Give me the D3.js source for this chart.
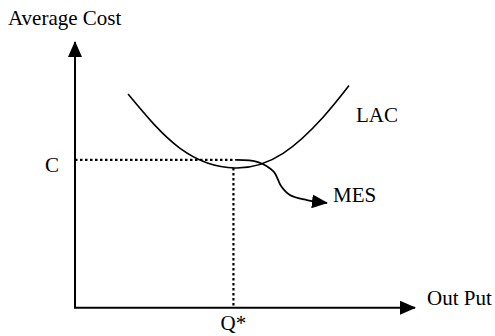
<!DOCTYPE html>
<html>
<head>
<meta charset="utf-8">
<script src="https://cdn.jsdelivr.net/npm/d3@7"></script>
<style>
  body { margin: 0; background: #fff; }
  svg text { font-family: "Liberation Serif", "Times New Roman", serif; font-size: 21px; fill: #000; }
</style>
</head>
<body>
<svg id="Chart" width="495" height="336"></svg>
<script>
(function() {
const svg = d3.select('svg#Chart');

// long run average cost curve (output, cost)
const lacOutput = [1.56, 3.09, 4.71, 6.12, 7.29, 8.06];
const lacCost   = [8.04, 6.0, 5.26, 5.81, 7.16, 8.36];

// minimum efficient scale pointer
const mesOutput = [4.71, 5.38, 5.85, 6.06, 6.32, 6.82, 7.41];
const mesCost   = [5.56, 5.48, 5.11, 4.58, 4.24, 4.05, 3.94];

const minCost = 5.56;
const minOutput = 4.71;
const qOutput = 4.66;

const labels = {
  yAxis: 'Average Cost',
  xAxis: 'Out Put',
  curve: 'LAC',
  mes: 'MES',
  cost: 'C',
  quantity: 'Q*'
};

const x = d3.scaleLinear().domain([0, 10]).range([75, 415]);
const y = d3.scaleLinear().domain([0, 10]).range([307.7, 42]);

const defs = svg.append('defs');
defs.append('marker')
    .attr('id', 'head')
    .attr('viewBox', '0 0 16 14')
    .attr('refX', 15).attr('refY', 7)
    .attr('markerWidth', 16).attr('markerHeight', 14)
    .attr('markerUnits', 'userSpaceOnUse')
    .attr('orient', 'auto')
  .append('path')
    .attr('d', 'M0,0L16,7L0,14Z')
    .attr('fill', '#000');

// axes
svg.append('path')
    .attr('d', d3.line()([[x(0), y(0)], [x(0), y(10)]]))
    .attr('stroke', '#000').attr('stroke-width', 2).attr('fill', 'none')
    .attr('marker-end', 'url(#head)');
svg.append('path')
    .attr('d', d3.line()([[x(0) - 1, y(0)], [x(10), y(0)]]))
    .attr('stroke', '#000').attr('stroke-width', 2).attr('fill', 'none')
    .attr('marker-end', 'url(#head)');

// dotted guides
svg.append('path')
    .attr('d', d3.line()([[x(0), y(minCost)], [x(minOutput), y(minCost)]]))
    .attr('stroke', '#000').attr('stroke-width', 2.2)
    .attr('stroke-dasharray', '2.5,2.5').attr('fill', 'none');
svg.append('path')
    .attr('d', d3.line()([[x(qOutput), y(5.26)], [x(qOutput), y(0)]]))
    .attr('stroke', '#000').attr('stroke-width', 2.2)
    .attr('stroke-dasharray', '2.5,2.5').attr('fill', 'none');

const lacLine = d3.line()
    .x(d => x(d[0]))
    .y(d => y(d[1]))
    .curve(d3.curveNatural);

const mesLine = d3.line()
    .x(d => x(d[0]))
    .y(d => y(d[1]))
    .curve(d3.curveCatmullRom.alpha(0.5));

svg.append('path')
    .datum(lacOutput.map((v, i) => [v, lacCost[i]]))
    .attr('d', lacLine)
    .attr('stroke', '#000').attr('stroke-width', 1.6).attr('fill', 'none');

svg.append('path')
    .datum(mesOutput.map((v, i) => [v, mesCost[i]]))
    .attr('d', mesLine)
    .attr('stroke', '#000').attr('stroke-width', 1.8).attr('fill', 'none')
    .attr('marker-end', 'url(#head)');

// labels
svg.append('text').attr('x', 8).attr('y', 25).text(labels.yAxis);
svg.append('text').attr('x', 427).attr('y', 305).text(labels.xAxis);
svg.append('text').attr('x', 356).attr('y', 122).text(labels.curve);
svg.append('text').attr('x', 333).attr('y', 202).text(labels.mes);
svg.append('text').attr('x', 45).attr('y', 172).text(labels.cost);
svg.append('text').attr('x', x(qOutput)).attr('y', 330)
    .attr('text-anchor', 'middle').text(labels.quantity);
})();
</script>
</body>
</html>
